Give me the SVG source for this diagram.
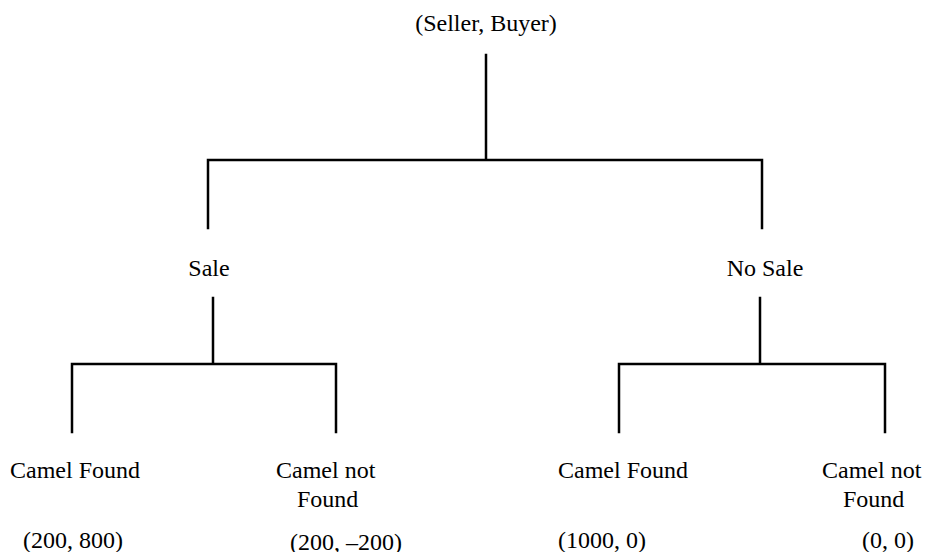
<svg xmlns="http://www.w3.org/2000/svg" width="925" height="552" viewBox="0 0 925 552">
  <style>
    text { font-family: 'Liberation Serif', 'DejaVu Serif', serif; font-size: 24px; fill: #000; }
    .mid { text-anchor: middle; }
    .edge { stroke: #000; stroke-width: 2.5; fill: none; stroke-linecap: square; }
  </style>
  <rect width="925" height="552" fill="#fff"/>

  <!-- tree branches -->
  <g id="connectors">
    <path class="edge" d="M486 55 V160 M208 160 H762 M208 160 V228 M762 160 V228"/>
    <path class="edge" d="M213 298 V364 M72 364 H336 M72 364 V432 M336 364 V432"/>
    <path class="edge" d="M760 298 V364 M619 364 H885 M619 364 V432 M885 364 V432"/>
  </g>

  <g id="root"><text class="mid" x="486" y="31">(Seller, Buyer)</text></g>
  <g id="sale"><text class="mid" x="209" y="276">Sale</text></g>
  <g id="nosale"><text class="mid" x="765" y="276">No Sale</text></g>

  <g id="sale-found">
    <text x="10" y="478">Camel Found</text>
    <text x="23" y="548">(200, 800)</text>
  </g>
  <g id="sale-notfound">
    <text x="276" y="478">Camel not</text>
    <text x="297" y="507">Found</text>
    <text x="290" y="550">(200, –200)</text>
  </g>
  <g id="nosale-found">
    <text x="558" y="478">Camel Found</text>
    <text x="558" y="548">(1000, 0)</text>
  </g>
  <g id="nosale-notfound">
    <text x="822" y="478">Camel not</text>
    <text x="843" y="507">Found</text>
    <text x="862" y="548">(0, 0)</text>
  </g>
</svg>
